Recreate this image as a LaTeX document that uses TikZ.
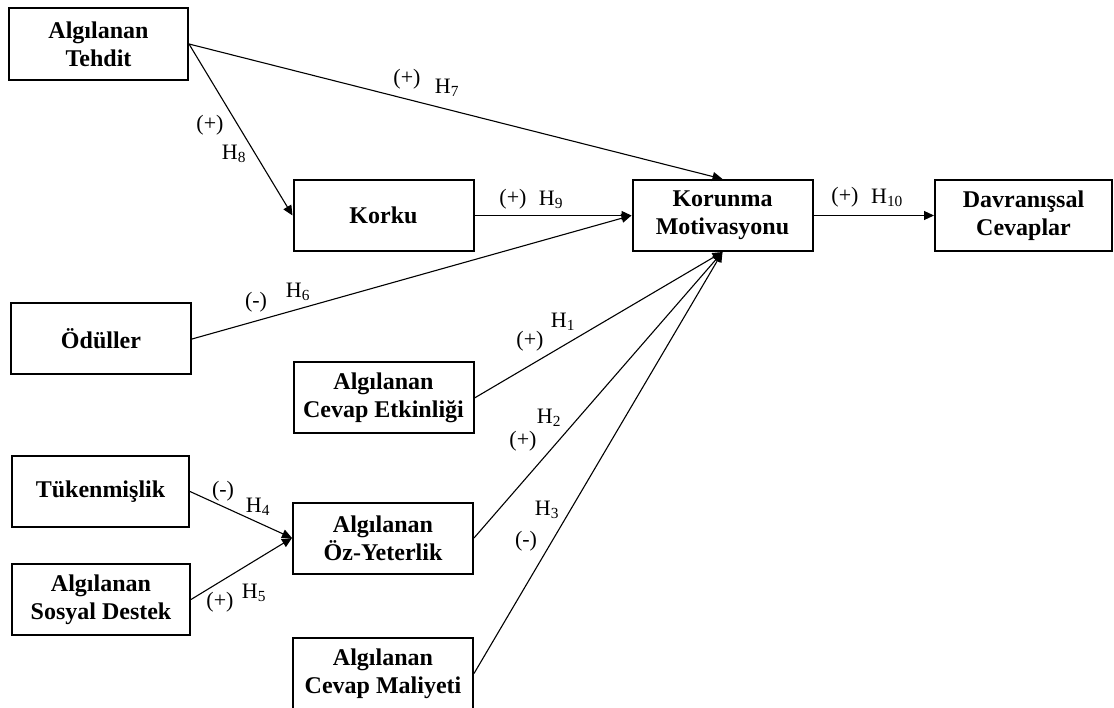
\documentclass[tikz,border=0pt]{standalone}
\usepackage{fontspec}
\setmainfont{Liberation Serif}
\usetikzlibrary{arrows.meta}

\tikzset{
  box/.style={draw, line width=2pt, minimum width=180pt, minimum height=71pt,
    inner sep=0pt, align=center, font=\bfseries\fontsize{24}{28}\selectfont},
  arr/.style={line width=1.1pt, -{Triangle[length=10pt,width=9pt]}},
  lbl/.style={inner sep=0pt, font=\fontsize{22}{26}\selectfont},
}

\begin{document}
\begin{tikzpicture}[x=1pt, y=-1pt]
\useasboundingbox (0,0) rectangle (1114,708);

% constructs
\node[box, minimum width=179pt, minimum height=72pt] (teh) at (98.5,44) {Algılanan\\Tehdit};
\node[box] (kor) at (383.5,215.5) {Korku};
\node[box] (mot) at (722.5,215.5) {Korunma\\Motivasyonu};
\node[box, minimum width=177pt] (dav) at (1023.5,215.5) {Davranışsal\\Cevaplar};
\node[box] (odu) at (101,339) {Ödüller};
\node[box] (etk) at (383.5,398) {Algılanan\\Cevap Etkinliği};
\node[box, minimum width=177pt] (tuk) at (100.5,491.5) {Tükenmişlik};
\node[box] (yet) at (383,538) {Algılanan\\Öz-Yeterlik};
\node[box, minimum width=178pt] (sos) at (101,599.5) {Algılanan\\Sosyal Destek};
\node[box] (mal) at (383,673.5) {Algılanan\\Cevap Maliyeti};

% hypothesised paths
\draw[arr] (teh.east) -- (mot.north);
\draw[arr] (teh.east) -- (kor.west);
\draw[arr] (kor.east) -- (mot.west);
\draw[arr] (odu.east) -- (mot.west);
\draw[arr] (etk.east) -- (mot.south);
\draw[arr] (yet.east) -- (mot.south);
\draw[arr] (mal.east) -- (mot.south);
\draw[arr] (tuk.east) -- (yet.west);
\draw[arr] (sos.east) -- (yet.west);
\draw[arr] (mot.east) -- (dav.west);

% path labels
\node[lbl] (s7) at (407,79) {(+)};
\node[lbl] (h7) at (447,88) {H\textsubscript{7}};
\node[lbl] (s8) at (210,125) {(+)};
\node[lbl] (h8) at (234,154) {H\textsubscript{8}};
\node[lbl] (s9) at (513,199) {(+)};
\node[lbl] (h9) at (551,200) {H\textsubscript{9}};
\node[lbl] (s10) at (845,197) {(+)};
\node[lbl] (h10) at (887,198) {H\textsubscript{10}};
\node[lbl] (s6) at (256,302) {(-)};
\node[lbl] (h6) at (298,292) {H\textsubscript{6}};
\node[lbl] (s1) at (530,341) {(+)};
\node[lbl] (h1) at (563,322) {H\textsubscript{1}};
\node[lbl] (s2) at (523,441) {(+)};
\node[lbl] (h2) at (549,418) {H\textsubscript{2}};
\node[lbl] (s3) at (526,541) {(-)};
\node[lbl] (h3) at (547,510) {H\textsubscript{3}};
\node[lbl] (s4) at (223,491) {(-)};
\node[lbl] (h4) at (258,507) {H\textsubscript{4}};
\node[lbl] (s5) at (220,602) {(+)};
\node[lbl] (h5) at (254,593) {H\textsubscript{5}};
\end{tikzpicture}
\end{document}
